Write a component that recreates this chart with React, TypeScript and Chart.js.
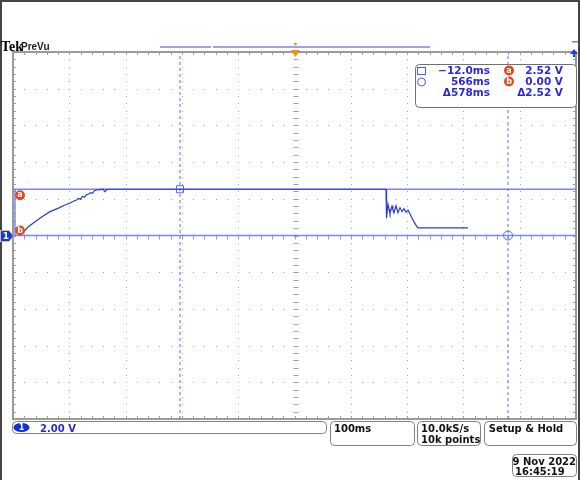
import React, { useEffect, useRef } from 'react';
import { Chart, registerables } from 'chart.js';
Chart.register(...registerables);

// ---- data (time in ms, voltage in V) ----
const timeMs = [
  -288.7, -279.9, -267.5, -255.2, -241.1, -227.0, -214.7, -205.9, -199.7, -194.4,
  -190.9, -187.4, -183.8, -180.3, -176.8, -173.3, -169.7, -166.2, -162.7, -159.2,
  -153.0, -147.7, -144.2, -141.5, -138.9,
  351.0, 351.9, 354.5, 356.3, 358.0, 361.6, 363.3, 365.1, 368.6, 372.1,
  375.7, 379.2, 382.7, 386.2, 389.8, 393.3, 396.8, 400.3, 403.8, 407.4,
  495.5,
];
const volts = [
  0.14, 0.46, 0.75, 1.02, 1.30, 1.48, 1.66, 1.77, 1.87, 1.93,
  2.02, 1.98, 2.14, 2.08, 2.22, 2.26, 2.33, 2.30, 2.44, 2.48,
  2.50, 2.52, 2.38, 2.50, 2.52,
  2.52, 0.95, 1.70, 1.45, 1.20, 1.60, 1.40, 1.25, 1.62, 1.24,
  1.52, 1.30, 1.46, 1.27, 1.38, 1.17, 0.95, 0.74, 0.57, 0.42,
  0.42,
];
const leftEdgeMs = -302.8;
const cursorTimes = [-12.0, 566];
const cursorVolts = [2.52, 0.0];
const xRange = [-306.3, 685.8];
const yRange = [-10, 10];
const voltsPerDiv = '2.00 V';
const timePerDiv = '100ms';
const sampleRate = '10.0kS/s';
const recordLen = '10k points';
const triggerMode = 'Setup & Hold';
const dateText = '9 Nov 2022';
const timeText = '16:45:19';
const expansionPoint = 190;

const TRACE = '#2a3ad8';
const CURSOR = '#7a86f2';
const CURSOR_V = '#5a68f0';
const TEXT_BLUE = '#2a2ad4';
const BADGE = '#e8461e';
const FONT = '"DejaVu Sans", sans-serif';

function fmtMs(v: number) {
  const s = Math.abs(v) < 100 ? v.toFixed(1) : v.toFixed(0);
  return (v < 0 ? '\u2212' + s.slice(1) : s) + 'ms';
}

function rr(ctx: CanvasRenderingContext2D, x: number, y: number, w: number, h: number, r: number) {
  ctx.beginPath();
  ctx.moveTo(x + r, y);
  ctx.lineTo(x + w - r, y);
  ctx.quadraticCurveTo(x + w, y, x + w, y + r);
  ctx.lineTo(x + w, y + h - r);
  ctx.quadraticCurveTo(x + w, y + h, x + w - r, y + h);
  ctx.lineTo(x + r, y + h);
  ctx.quadraticCurveTo(x, y + h, x, y + h - r);
  ctx.lineTo(x, y + r);
  ctx.quadraticCurveTo(x, y, x + r, y);
  ctx.closePath();
}

const graticule = {
  id: 'graticule',
  beforeDatasetsDraw(chart: any) {
    const { ctx, chartArea, scales } = chart;
    const { left, right, top, bottom } = chartArea;
    const xs = scales.x, ys = scales.y;
    const xDiv = (xRange[1] - xRange[0]) / 10;
    const yDiv = (yRange[1] - yRange[0]) / 10;
    ctx.save();
    ctx.fillStyle = '#a8a8a8';
    for (let i = 1; i < 10; i++) {
      const px = Math.round(xs.getPixelForValue(xRange[0] + i * xDiv));
      for (let j = 0; j <= 50; j++) {
        const py = Math.round(ys.getPixelForValue(yRange[0] + j * yDiv / 5));
        ctx.fillRect(px, py, 1, 1);
      }
    }
    for (let i = 1; i < 10; i++) {
      const py = Math.round(ys.getPixelForValue(yRange[0] + i * yDiv));
      for (let j = 0; j <= 50; j++) {
        const px = Math.round(xs.getPixelForValue(xRange[0] + j * xDiv / 5));
        ctx.fillRect(px, py, 1, 1);
      }
    }
    ctx.strokeStyle = '#9c9c9c';
    ctx.lineWidth = 1;
    const cx = Math.round(xs.getPixelForValue(xRange[0] + 5 * xDiv)) + 0.5;
    const cy = Math.round(ys.getPixelForValue(yRange[0] + 5 * yDiv)) + 0.5;
    ctx.beginPath();
    for (let j = 1; j < 50; j++) {
      const py = Math.round(ys.getPixelForValue(yRange[0] + j * yDiv / 5)) + 0.5;
      ctx.moveTo(cx - 2, py); ctx.lineTo(cx + 3, py);
      ctx.moveTo(left, py); ctx.lineTo(left + 3, py);
      ctx.moveTo(right - 3, py); ctx.lineTo(right, py);
      const px = Math.round(xs.getPixelForValue(xRange[0] + j * xDiv / 5)) + 0.5;
      ctx.moveTo(px, cy - 2); ctx.lineTo(px, cy + 3);
      ctx.moveTo(px, top); ctx.lineTo(px, top + 3);
      ctx.moveTo(px, bottom - 3); ctx.lineTo(px, bottom);
    }
    ctx.stroke();
    ctx.strokeStyle = '#9a9a9a';
    ctx.lineWidth = 2;
    ctx.strokeRect(left, top, right - left, bottom - top);
    ctx.restore();
  },
};

const overlay = {
  id: 'overlay',
  afterDraw(chart: any) {
    const { ctx, chartArea, scales } = chart;
    const { top } = chartArea;
    const xs = scales.x, ys = scales.y;
    ctx.save();
    ctx.fillStyle = '#444';
    ctx.fillRect(0, 0, 580, 2);
    ctx.fillRect(0, 0, 2, 480);
    ctx.fillRect(578, 0, 2, 480);

    ctx.textBaseline = 'alphabetic';
    ctx.fillStyle = '#000';
    ctx.font = 'bold 14px "Liberation Serif", serif';
    ctx.fillText('Tek', 1, 51);
    ctx.fillStyle = '#1a1a1a';
    ctx.font = 'bold 10px "Liberation Sans", sans-serif';
    ctx.fillText('PreVu', 21, 50);

    ctx.strokeStyle = '#7c82ee';
    ctx.lineWidth = 1.5;
    ctx.beginPath();
    ctx.moveTo(160, 47); ctx.lineTo(211, 47);
    ctx.moveTo(213, 47); ctx.lineTo(430, 47);
    ctx.stroke();

    const ex = Math.round(xs.getPixelForValue(expansionPoint)) + 0.5;
    ctx.fillStyle = '#f29010';
    ctx.beginPath();
    ctx.moveTo(ex - 2, 43); ctx.lineTo(ex + 2, 43); ctx.lineTo(ex, 46); ctx.closePath();
    ctx.fill();
    ctx.beginPath();
    ctx.moveTo(ex - 4, top - 1); ctx.lineTo(ex + 4, top - 1); ctx.lineTo(ex, top + 5); ctx.closePath();
    ctx.fill();
    ctx.fillRect(ex - 4, top - 2, 8, 2);

    ctx.fillStyle = '#888';
    ctx.fillRect(572, 41, 6, 1.5);
    ctx.fillStyle = '#2040e0';
    ctx.beginPath();
    ctx.moveTo(574, 49); ctx.lineTo(578, 54); ctx.lineTo(570, 54); ctx.closePath();
    ctx.fill();
    ctx.fillRect(573, 53, 2, 4);

    // readout box
    ctx.fillStyle = '#fff';
    rr(ctx, 415.5, 64.5, 161, 43, 4);
    ctx.fill();
    ctx.strokeStyle = '#707070';
    ctx.lineWidth = 1;
    ctx.stroke();
    ctx.strokeStyle = '#4a5ae8';
    ctx.strokeRect(417.5, 67.5, 8, 7);
    ctx.beginPath(); ctx.arc(421.5, 82, 4, 0, Math.PI * 2); ctx.stroke();
    ctx.font = 'bold 10.5px ' + FONT;
    ctx.fillStyle = TEXT_BLUE;
    ctx.textAlign = 'right';
    const dt = cursorTimes[1] - cursorTimes[0];
    const dv = cursorVolts[0] - cursorVolts[1];
    ctx.fillText(fmtMs(cursorTimes[0]), 490, 74);
    ctx.fillText(fmtMs(cursorTimes[1]), 490, 85);
    ctx.fillText('\u0394' + fmtMs(dt), 490, 96);
    ctx.fillText(cursorVolts[0].toFixed(2) + ' V', 563, 74);
    ctx.fillText(cursorVolts[1].toFixed(2) + ' V', 563, 85);
    ctx.fillText('\u0394' + dv.toFixed(2) + ' V', 563, 96);
    const badge = (x: number, y: number, t: string) => {
      ctx.fillStyle = BADGE;
      ctx.beginPath(); ctx.arc(x, y, 5, 0, Math.PI * 2); ctx.fill();
      ctx.fillStyle = '#fff';
      ctx.textAlign = 'center';
      ctx.textBaseline = 'middle';
      ctx.font = 'bold 8px ' + FONT;
      ctx.fillText(t, x, y);
      ctx.textBaseline = 'alphabetic';
    };
    badge(509, 70.5, 'a');
    badge(509, 81.5, 'b');

    const ya = ys.getPixelForValue(cursorVolts[0]);
    const yb = ys.getPixelForValue(cursorVolts[1]);
    badge(20, ya + 6, 'a');
    badge(20, yb - 5, 'b');

    // ch1 ground marker
    const gy = Math.round(ys.getPixelForValue(0));
    ctx.fillStyle = '#c8c080';
    ctx.beginPath();
    ctx.moveTo(0, gy - 6); ctx.lineTo(9, gy - 6); ctx.lineTo(14, gy); ctx.lineTo(9, gy + 6); ctx.lineTo(0, gy + 6); ctx.closePath();
    ctx.fill();
    ctx.fillStyle = '#1a36e0';
    ctx.beginPath();
    ctx.moveTo(1, gy - 5); ctx.lineTo(9, gy - 5); ctx.lineTo(13, gy); ctx.lineTo(9, gy + 5); ctx.lineTo(1, gy + 5); ctx.closePath();
    ctx.fill();
    ctx.fillStyle = '#fff';
    ctx.font = 'bold 9px ' + FONT;
    ctx.textAlign = 'center';
    ctx.textBaseline = 'middle';
    ctx.fillText('1', 6, gy + 0.5);
    ctx.textBaseline = 'alphabetic';

    // bottom bar
    ctx.strokeStyle = '#808080';
    ctx.lineWidth = 1;
    rr(ctx, 12.5, 421.5, 314, 12, 4); ctx.stroke();
    rr(ctx, 330.5, 421.5, 84, 24, 4); ctx.stroke();
    rr(ctx, 417.5, 421.5, 63, 24, 4); ctx.stroke();
    rr(ctx, 484.5, 421.5, 92, 24, 4); ctx.stroke();
    rr(ctx, 512.5, 454.5, 64, 22, 4); ctx.stroke();
    ctx.fillStyle = '#1030e0';
    ctx.beginPath(); ctx.ellipse(21.5, 427.5, 8, 4.5, 0, 0, Math.PI * 2); ctx.fill();
    ctx.fillStyle = '#fff';
    ctx.font = 'bold 8px ' + FONT;
    ctx.textAlign = 'center';
    ctx.textBaseline = 'middle';
    ctx.fillText('1', 21.5, 428);
    ctx.textBaseline = 'alphabetic';
    ctx.textAlign = 'left';
    ctx.font = 'bold 10px ' + FONT;
    ctx.fillStyle = TEXT_BLUE;
    ctx.fillText(voltsPerDiv, 40, 432);
    ctx.fillStyle = '#111';
    ctx.fillText(timePerDiv, 334, 432);
    ctx.fillText(sampleRate, 421, 432);
    ctx.fillText(recordLen, 421, 443);
    ctx.textAlign = 'center';
    ctx.fillText(triggerMode, 526, 432);
    ctx.textAlign = 'right';
    ctx.fillText(dateText, 576, 465);
    ctx.textAlign = 'left';
    ctx.fillText(timeText, 515, 475);
    ctx.restore();
  },
};

export default function App() {
  const ref = useRef<HTMLCanvasElement>(null);
  useEffect(() => {
    document.body.style.margin = '0';
    const trace = timeMs.map((t, i) => ({ x: t, y: volts[i] }));
    const chart = new Chart(ref.current!, {
      type: 'scatter',
      data: {
        datasets: [
          { data: trace, showLine: true, borderColor: TRACE, borderWidth: 1.2, pointRadius: 0, tension: 0 },
          { data: [{ x: cursorTimes[0], y: cursorVolts[0] }], pointStyle: 'rect', pointRadius: 5, borderColor: CURSOR_V, borderWidth: 1, backgroundColor: 'rgba(0,0,0,0)' },
          { data: [{ x: cursorTimes[1], y: cursorVolts[1] }], pointStyle: 'circle', pointRadius: 4.5, borderColor: CURSOR_V, borderWidth: 1, backgroundColor: 'rgba(0,0,0,0)' },
          { data: [{ x: xRange[0], y: cursorVolts[0] }, { x: xRange[1], y: cursorVolts[0] }], showLine: true, borderColor: CURSOR, borderWidth: 1.5, pointRadius: 0 },
          { data: [{ x: xRange[0], y: cursorVolts[1] }, { x: xRange[1], y: cursorVolts[1] }], showLine: true, borderColor: CURSOR, borderWidth: 1.5, pointRadius: 0 },
          { data: [{ x: leftEdgeMs, y: cursorVolts[1] }, { x: leftEdgeMs, y: cursorVolts[0] }], showLine: true, borderColor: CURSOR, borderWidth: 1.5, pointRadius: 0 },
          { data: [{ x: cursorTimes[0], y: yRange[0] }, { x: cursorTimes[0], y: yRange[1] }], showLine: true, borderColor: CURSOR_V, borderWidth: 1, borderDash: [3, 3], pointRadius: 0 },
          { data: [{ x: cursorTimes[1], y: yRange[0] }, { x: cursorTimes[1], y: yRange[1] }], showLine: true, borderColor: CURSOR_V, borderWidth: 1, borderDash: [3, 3], pointRadius: 0 },
        ],
      },
      options: {
        animation: false,
        responsive: false,
        devicePixelRatio: 1,
        layout: { autoPadding: false, padding: { left: 13, right: 4, top: 52, bottom: 61 } },
        plugins: { legend: { display: false }, tooltip: { enabled: false } },
        scales: {
          x: { type: 'linear', min: xRange[0], max: xRange[1], display: false },
          y: { type: 'linear', min: yRange[0], max: yRange[1], display: false },
        },
      },
      plugins: [graticule, overlay],
    });
    return () => chart.destroy();
  }, []);
  return (
    <div style={{ width: 580, height: 480, background: '#fff' }}>
      <canvas ref={ref} width={580} height={480} style={{ display: 'block' }} />
    </div>
  );
}
